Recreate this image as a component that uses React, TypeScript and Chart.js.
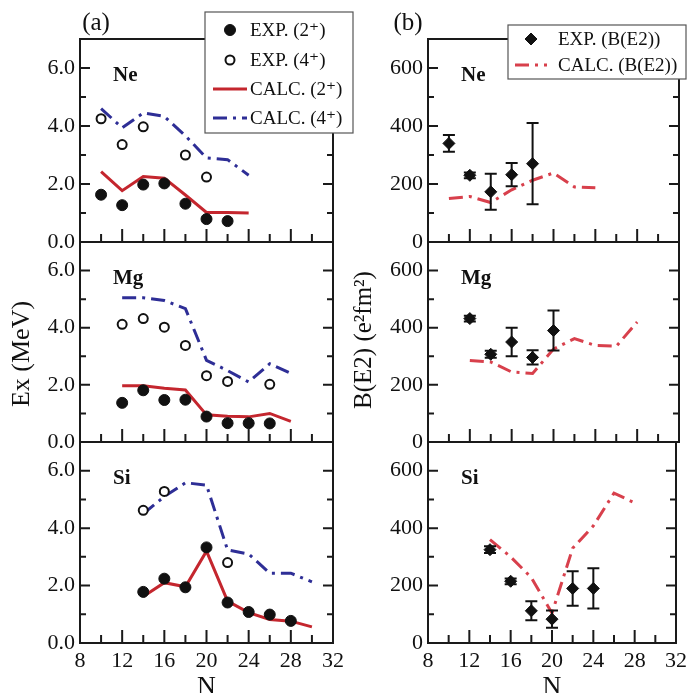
import React, { useEffect, useRef } from "react";
import { Chart, registerables } from "chart.js";
Chart.register(...registerables);

const W = 692;
const H = 693;
const FONT = "'Liberation Serif', 'DejaVu Serif', serif";

// ---- axes ----
const xMajorTicks = [8, 12, 16, 20, 24, 28, 32];
const xMinorTicks = [10, 14, 18, 22, 26, 30];
const exMajorTicks = [0, 2, 4, 6];
const exMinorTicks = [1, 3, 5];
const be2MajorTicks = [0, 200, 400, 600];
const be2MinorTicks = [100, 300, 500];

// ---- Ne excitation energies (MeV) ----
const neExp2N = [10, 12, 14, 16, 18, 20, 22];
const neExp2E = [1.63, 1.27, 1.98, 2.02, 1.32, 0.79, 0.72];
const neExp4N = [10, 12, 14, 18, 20];
const neExp4E = [4.25, 3.36, 3.97, 3.0, 2.24];
const neCalcN = [10, 12, 14, 16, 18, 20, 22, 24];
const neCalc2E = [2.43, 1.77, 2.26, 2.2, 1.62, 1.02, 1.02, 1.0];
const neCalc4E = [4.6, 3.94, 4.45, 4.33, 3.66, 2.9, 2.84, 2.3];

// ---- Mg excitation energies (MeV) ----
const mgExp2N = [12, 14, 16, 18, 20, 22, 24, 26];
const mgExp2E = [1.37, 1.81, 1.47, 1.48, 0.89, 0.66, 0.66, 0.65];
const mgExp4N = [12, 14, 16, 18, 20, 22, 26];
const mgExp4E = [4.12, 4.32, 4.02, 3.38, 2.32, 2.12, 2.02];
const mgCalcN = [12, 14, 16, 18, 20, 22, 24, 26, 28];
const mgCalc2E = [1.97, 1.97, 1.88, 1.82, 0.95, 0.9, 0.88, 1.0, 0.72];
const mgCalc4E = [5.05, 5.05, 4.95, 4.67, 2.86, 2.5, 2.1, 2.74, 2.4];

// ---- Si excitation energies (MeV) ----
const siExp2N = [14, 16, 18, 20, 22, 24, 26, 28];
const siExp2E = [1.78, 2.24, 1.94, 3.33, 1.41, 1.08, 0.99, 0.77];
const siExp4N = [14, 16, 22];
const siExp4E = [4.62, 5.28, 2.8];
const siCalcN = [14, 16, 18, 20, 22, 24, 26, 28, 30];
const siCalc2E = [1.62, 2.1, 1.96, 3.2, 1.46, 1.06, 0.82, 0.76, 0.56];
const siCalc4E = [4.5, 5.1, 5.58, 5.5, 3.24, 3.1, 2.43, 2.43, 2.13];

// ---- B(E2) values (e^2 fm^4) ----
const neBe2ExpN = [10, 12, 14, 16, 18];
const neBe2Exp = [340, 230, 173, 232, 270];
const neBe2Err = [29, 10, 62, 40, 140];
const neBe2CalcN = [10, 12, 14, 16, 18, 20, 22, 24];
const neBe2Calc = [150, 157, 136, 180, 213, 238, 190, 187];

const mgBe2ExpN = [12, 14, 16, 18, 20];
const mgBe2Exp = [432, 307, 350, 296, 390];
const mgBe2Err = [10, 12, 50, 25, 70];
const mgBe2CalcN = [12, 14, 16, 18, 20, 22, 24, 26, 28];
const mgBe2Calc = [285, 280, 245, 240, 325, 362, 338, 335, 420];

const siBe2ExpN = [14, 16, 18, 20, 22, 24];
const siBe2Exp = [325, 215, 112, 83, 190, 190];
const siBe2Err = [12, 10, 33, 30, 60, 70];
const siBe2CalcN = [14, 16, 18, 20, 22, 24, 26, 28];
const siBe2Calc = [360, 300, 228, 104, 330, 408, 522, 488];

// ---- styles ----
const AXIS_COLOR = "#1a1a1a";
const RED = "#c4262e";
const BLUE = "#2e2e96";
const PINK = "#d8404c";

const pts = (xs: number[], ys: number[]) => xs.map((x, i) => ({ x, y: ys[i] }));

const filledCircle = (data: any) => ({
  label: "EXP. (2\u207A)",
  data,
  showLine: false,
  pointStyle: "circle",
  pointRadius: 5.5,
  pointBackgroundColor: "#111",
  pointBorderColor: "#111",
  pointBorderWidth: 1,
  order: 1,
});
const openCircle = (data: any) => ({
  label: "EXP. (4\u207A)",
  data,
  showLine: false,
  pointStyle: "circle",
  pointRadius: 4.5,
  pointBackgroundColor: "#fff",
  pointBorderColor: "#111",
  pointBorderWidth: 2,
  order: 1,
});
const calc2 = (data: any) => ({
  label: "CALC. (2\u207A)",
  data,
  showLine: true,
  pointRadius: 0,
  borderColor: RED,
  borderWidth: 3,
  backgroundColor: RED,
  order: 2,
});
const calc4 = (data: any) => ({
  label: "CALC. (4\u207A)",
  data,
  showLine: true,
  pointRadius: 0,
  borderColor: BLUE,
  borderWidth: 3,
  borderDash: [14, 6, 3, 6],
  backgroundColor: BLUE,
  order: 2,
});
const be2Exp = (data: any, errors: number[]) => ({
  label: "EXP. (B(E2))",
  data,
  errors,
  showLine: false,
  pointStyle: "rectRot",
  pointRadius: 6,
  pointBackgroundColor: "#111",
  pointBorderColor: "#111",
  pointBorderWidth: 1,
  order: 1,
});
const be2Calc = (data: any) => ({
  label: "CALC. (B(E2))",
  data,
  showLine: true,
  pointRadius: 0,
  borderColor: PINK,
  borderWidth: 3,
  borderDash: [14, 6, 3, 6],
  backgroundColor: PINK,
  order: 2,
});

function drawMarker(ctx: CanvasRenderingContext2D, ds: any, x: number, y: number) {
  const r = ds.pointRadius;
  ctx.save();
  ctx.setLineDash([]);
  ctx.fillStyle = ds.pointBackgroundColor;
  ctx.strokeStyle = ds.pointBorderColor;
  ctx.lineWidth = ds.pointBorderWidth;
  ctx.beginPath();
  if (ds.pointStyle === "rectRot") {
    ctx.moveTo(x, y - r);
    ctx.lineTo(x + r, y);
    ctx.lineTo(x, y + r);
    ctx.lineTo(x - r, y);
    ctx.closePath();
  } else {
    ctx.arc(x, y, r, 0, Math.PI * 2);
  }
  ctx.fill();
  ctx.stroke();
  ctx.restore();
}

const decorPlugin = {
  id: "decor",
  beforeDatasetsDraw(chart: any) {
    const o = chart.options.plugins.decor;
    const { ctx, chartArea: a } = chart;
    const xs = chart.scales.x;
    const ys = chart.scales.y;
    ctx.save();
    ctx.strokeStyle = AXIS_COLOR;
    ctx.lineWidth = 2;
    ctx.setLineDash([]);
    ctx.strokeRect(a.left, a.top, a.right - a.left, a.bottom - a.top);
    ctx.beginPath();
    const xt = (v: number, len: number) => {
      const p = xs.getPixelForValue(v);
      ctx.moveTo(p, a.bottom);
      ctx.lineTo(p, a.bottom - len);
    };
    xMajorTicks.forEach((v) => xt(v, 13));
    xMinorTicks.forEach((v) => xt(v, 8));
    const yt = (v: number, len: number) => {
      const p = ys.getPixelForValue(v);
      ctx.moveTo(a.left, p);
      ctx.lineTo(a.left + len, p);
      ctx.moveTo(a.right, p);
      ctx.lineTo(a.right - len, p);
    };
    o.yMajor.forEach((v: number) => yt(v, 10));
    o.yMinor.forEach((v: number) => yt(v, 6));
    ctx.stroke();
    ctx.restore();
  },
  afterDatasetsDraw(chart: any) {
    const { ctx } = chart;
    const xs = chart.scales.x;
    const ys = chart.scales.y;
    chart.data.datasets.forEach((ds: any) => {
      if (!ds.errors) return;
      ctx.save();
      ctx.strokeStyle = "#111";
      ctx.lineWidth = 2;
      ctx.setLineDash([]);
      ctx.beginPath();
      ds.data.forEach((p: any, j: number) => {
        const e = ds.errors[j];
        const x = xs.getPixelForValue(p.x);
        const y1 = ys.getPixelForValue(p.y + e);
        const y2 = ys.getPixelForValue(p.y - e);
        ctx.moveTo(x, y1);
        ctx.lineTo(x, y2);
        ctx.moveTo(x - 6, y1);
        ctx.lineTo(x + 6, y1);
        ctx.moveTo(x - 6, y2);
        ctx.lineTo(x + 6, y2);
      });
      ctx.stroke();
      ctx.restore();
    });
  },
  afterDraw(chart: any) {
    const o = chart.options.plugins.decor;
    const { ctx, chartArea: a } = chart;
    ctx.save();
    ctx.fillStyle = "#111";
    // panel label
    ctx.font = `bold 21px ${FONT}`;
    ctx.textAlign = "left";
    ctx.textBaseline = "middle";
    ctx.fillText(o.label, a.left + 33, a.top + 37);
    (o.texts || []).forEach((t: any) => {
      ctx.save();
      ctx.font = t.font;
      ctx.textAlign = "center";
      ctx.textBaseline = "middle";
      const x = t.fromRight ? a.right + t.dx : t.center ? (a.left + a.right) / 2 + t.dx : a.left + t.dx;
      const y = t.fromBottom ? a.bottom + t.dy : t.mid ? (a.top + a.bottom) / 2 + t.dy : a.top + t.dy;
      ctx.translate(x, y);
      if (t.rotate) ctx.rotate(-Math.PI / 2);
      ctx.fillText(t.text, 0, 0);
      ctx.restore();
    });
    const lg = o.legend;
    if (lg) {
      const bx = a.left + lg.dx;
      const by = a.top + lg.dy;
      ctx.fillStyle = "#fff";
      ctx.fillRect(bx, by, lg.w, lg.h);
      ctx.strokeStyle = "#555";
      ctx.lineWidth = 1.2;
      ctx.setLineDash([]);
      ctx.strokeRect(bx, by, lg.w, lg.h);
      lg.rows.forEach((row: any) => {
        const ds = chart.data.datasets[row.ds];
        const cy = by + row.dy;
        const sx = bx + lg.sampleX;
        if (ds.showLine === false) {
          drawMarker(ctx, ds, sx, cy);
        } else {
          ctx.save();
          ctx.strokeStyle = ds.borderColor;
          ctx.lineWidth = ds.borderWidth;
          ctx.setLineDash(ds.borderDash || []);
          ctx.beginPath();
          ctx.moveTo(sx - lg.sampleHalf, cy);
          ctx.lineTo(sx + lg.sampleHalf, cy);
          ctx.stroke();
          ctx.restore();
        }
        ctx.fillStyle = "#111";
        ctx.font = `19px ${FONT}`;
        ctx.textAlign = "left";
        ctx.textBaseline = "middle";
        ctx.fillText(ds.label, bx + lg.textX, cy + 1);
      });
    }
    ctx.restore();
  },
};

type Panel = {
  left: number;
  right: number;
  top: number;
  bottom: number;
  yMax: number;
  yMajor: number[];
  yMinor: number[];
  yFmt: (v: number) => string;
  showX: boolean;
  label: string;
  datasets: any[];
  texts?: any[];
  legend?: any;
};

const Y_BOX = 70;
const X_BOX = 40;
const TICK_FONT = { family: FONT, size: 22 };

const exFmt = (v: number) => v.toFixed(1);
const be2Fmt = (v: number) => String(v);

const COL_L = { left: 80, right: 333 };
const COL_R = { left: 428, right: 679 };
const ROW_NE = { top: 39, bottom: 242 };
const ROW_MG = { top: 242, bottom: 442 };
const ROW_SI = { top: 442, bottom: 643 };

const leftLegend = {
  dx: 125,
  dy: -27,
  w: 148,
  h: 121,
  sampleX: 25,
  sampleHalf: 17,
  textX: 45,
  rows: [
    { ds: 2, dy: 18 },
    { ds: 3, dy: 48 },
    { ds: 0, dy: 77 },
    { ds: 1, dy: 106 },
  ],
};
const rightLegend = {
  dx: 80,
  dy: -14,
  w: 178,
  h: 54,
  sampleX: 23,
  sampleHalf: 16,
  textX: 50,
  rows: [
    { ds: 1, dy: 14 },
    { ds: 0, dy: 40 },
  ],
};

const panels: Panel[] = [
  {
    ...COL_L, ...ROW_NE, yMax: 7, yMajor: exMajorTicks, yMinor: exMinorTicks, yFmt: exFmt, showX: false, label: "Ne",
    datasets: [calc2(pts(neCalcN, neCalc2E)), calc4(pts(neCalcN, neCalc4E)), filledCircle(pts(neExp2N, neExp2E)), openCircle(pts(neExp4N, neExp4E))],
    texts: [{ text: "(a)", font: `25px ${FONT}`, dx: 16, dy: -16 }],
    legend: leftLegend,
  },
  {
    ...COL_L, ...ROW_MG, yMax: 7, yMajor: exMajorTicks, yMinor: exMinorTicks, yFmt: exFmt, showX: false, label: "Mg",
    datasets: [calc2(pts(mgCalcN, mgCalc2E)), calc4(pts(mgCalcN, mgCalc4E)), filledCircle(pts(mgExp2N, mgExp2E)), openCircle(pts(mgExp4N, mgExp4E))],
    texts: [{ text: "Ex (MeV)", font: `26px ${FONT}`, dx: -58, mid: true, dy: 12, rotate: true }],
  },
  {
    ...COL_L, ...ROW_SI, yMax: 7, yMajor: exMajorTicks, yMinor: exMinorTicks, yFmt: exFmt, showX: true, label: "Si",
    datasets: [calc2(pts(siCalcN, siCalc2E)), calc4(pts(siCalcN, siCalc4E)), filledCircle(pts(siExp2N, siExp2E)), openCircle(pts(siExp4N, siExp4E))],
    texts: [{ text: "N", font: `26px ${FONT}`, center: true, dx: 0, fromBottom: true, dy: 44 }],
  },
  {
    ...COL_R, ...ROW_NE, yMax: 700, yMajor: be2MajorTicks, yMinor: be2MinorTicks, yFmt: be2Fmt, showX: false, label: "Ne",
    datasets: [be2Calc(pts(neBe2CalcN, neBe2Calc)), be2Exp(pts(neBe2ExpN, neBe2Exp), neBe2Err)],
    texts: [{ text: "(b)", font: `25px ${FONT}`, dx: -20, dy: -16 }],
    legend: rightLegend,
  },
  {
    ...COL_R, ...ROW_MG, yMax: 700, yMajor: be2MajorTicks, yMinor: be2MinorTicks, yFmt: be2Fmt, showX: false, label: "Mg",
    datasets: [be2Calc(pts(mgBe2CalcN, mgBe2Calc)), be2Exp(pts(mgBe2ExpN, mgBe2Exp), mgBe2Err)],
    texts: [{ text: "B(E2) (e\u00B2fm\u00B2)", font: `25px ${FONT}`, dx: -64, mid: true, dy: -2, rotate: true }],
  },
  {
    ...COL_R, ...ROW_SI, yMax: 700, yMajor: be2MajorTicks, yMinor: be2MinorTicks, yFmt: be2Fmt, showX: true, label: "Si",
    datasets: [be2Calc(pts(siBe2CalcN, siBe2Calc)), be2Exp(pts(siBe2ExpN, siBe2Exp), siBe2Err)],
    texts: [{ text: "N", font: `26px ${FONT}`, center: true, dx: 0, fromBottom: true, dy: 44 }],
  },
];

function PanelCanvas({ p }: { p: Panel }) {
  const ref = useRef<HTMLCanvasElement | null>(null);
  useEffect(() => {
    if (!ref.current) return;
    const xH = p.showX ? X_BOX : 0;
    const chart = new Chart(ref.current, {
      type: "scatter",
      data: { datasets: p.datasets },
      plugins: [decorPlugin],
      options: {
        animation: false,
        responsive: false,
        maintainAspectRatio: false,
        events: [],
        layout: {
          padding: {
            left: p.left - Y_BOX,
            right: W - p.right,
            top: p.top,
            bottom: H - p.bottom - xH,
          },
        },
        plugins: {
          legend: { display: false },
          tooltip: { enabled: false },
          decor: { yMajor: p.yMajor, yMinor: p.yMinor, label: p.label, texts: p.texts, legend: p.legend },
        } as any,
        scales: {
          x: {
            type: "linear",
            position: "bottom",
            min: 8,
            max: 32,
            afterBuildTicks: (axis: any) => {
              axis.ticks = xMajorTicks.map((v) => ({ value: v }));
            },
            afterFit: (axis: any) => {
              axis.height = xH;
            },
            ticks: {
              display: p.showX,
              font: TICK_FONT,
              color: "#111",
              padding: 5,
              maxRotation: 0,
              autoSkip: false,
            },
            grid: { display: false, drawTicks: false, tickLength: 0 },
            border: { display: false },
          },
          y: {
            type: "linear",
            position: "left",
            min: 0,
            max: p.yMax,
            afterBuildTicks: (axis: any) => {
              axis.ticks = p.yMajor.map((v) => ({ value: v }));
            },
            afterFit: (axis: any) => {
              axis.width = Y_BOX;
            },
            ticks: {
              font: TICK_FONT,
              color: "#111",
              padding: 5,
              callback: (v: any) => p.yFmt(Number(v)),
            },
            grid: { display: false, drawTicks: false, tickLength: 0 },
            border: { display: false },
          },
        },
      } as any,
    });
    return () => chart.destroy();
  }, [p]);
  return (
    <canvas
      ref={ref}
      width={W}
      height={H}
      style={{ position: "absolute", left: 0, top: 0, width: W, height: H }}
    />
  );
}

export default function App() {
  return (
    <div style={{ position: "absolute", left: 0, top: 0, width: W, height: H, background: "#fff" }}>
      {panels.map((p, i) => (
        <PanelCanvas key={i} p={p} />
      ))}
    </div>
  );
}
